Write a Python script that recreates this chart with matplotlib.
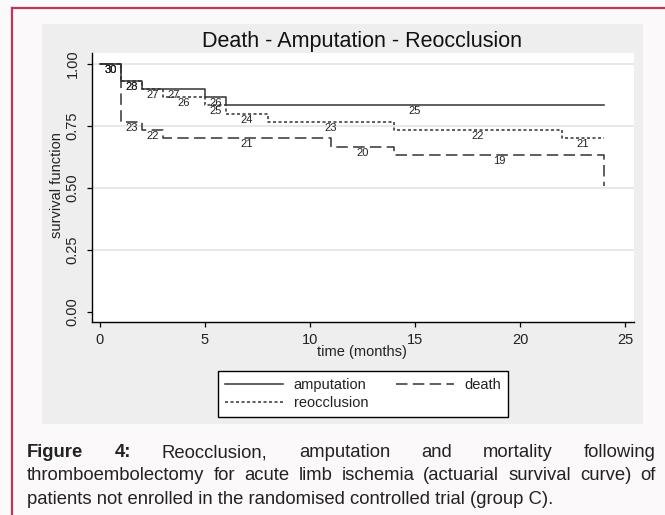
import matplotlib
matplotlib.use('Agg')
import matplotlib.pyplot as plt
from matplotlib.patches import Rectangle
from matplotlib.lines import Line2D

plt.rcParams['font.family'] = ['Liberation Sans', 'DejaVu Sans']

# ---------------- data ----------------
amp_times = [0, 1, 2, 5, 6, 24]
amp_surv = [1.000, 0.933, 0.900, 0.867, 0.833]
amp_risk = [30, 28, 27, 26, 25]

reo_times = [0, 1, 2, 3, 5, 6, 8, 14, 22, 24]
reo_surv = [1.000, 0.933, 0.900, 0.867, 0.833, 0.800, 0.767, 0.733, 0.700]
reo_risk = [30, 28, 27, 26, 25, 24, 23, 22, 21]

death_times = [0, 1, 2, 3, 11, 14, 24]
death_surv = [1.000, 0.767, 0.733, 0.700, 0.667, 0.633]
death_risk = [30, 23, 22, 21, 20, 19]
death_end = 0.51

xticks = [0, 5, 10, 15, 20, 25]
yticks = [0.0, 0.25, 0.50, 0.75, 1.00]
ytick_labels = ['0.00', '0.25', '0.50', '0.75', '1.00']

title = 'Death - Amputation - Reocclusion'
xlabel = 'time (months)'
ylabel = 'survival function'
legend_labels = ['amputation', 'reocclusion', 'death']

caption_lines = [
    ['Figure', '4:', 'Reocclusion,', 'amputation', 'and', 'mortality', 'following'],
    ['thromboembolectomy', 'for', 'acute', 'limb', 'ischemia', '(actuarial', 'survival', 'curve)', 'of'],
    ['patients', 'not', 'enrolled', 'in', 'the', 'randomised', 'controlled', 'trial', '(group', 'C).'],
]
caption_bold = {(0, 0), (0, 1)}

# ---------------- figure ----------------
W, H = 665, 515
fig = plt.figure(figsize=(W / 100, H / 100), dpi=100)
fig.patch.set_facecolor('#fbf9f9')

def fx(px):
    return px / W

def fy(py):
    return 1 - py / H

# crimson frame lines
fig.add_artist(Line2D([fx(12), 1.0], [fy(8), fy(8)], color='#c2345c', lw=1.6, transform=fig.transFigure))
fig.add_artist(Line2D([fx(12), fx(12)], [fy(8), 0.0], color='#c2345c', lw=1.6, transform=fig.transFigure))

# gray graph region
fig.add_artist(Rectangle((fx(42), fy(424)), fx(643) - fx(42), fy(24) - fy(424),
                         transform=fig.transFigure, facecolor='#eeeeee', edgecolor='none', zorder=0))

ax = fig.add_axes([fx(92), fy(322), fx(634) - fx(92), fy(53) - fy(322)])
ax.set_facecolor('white')
ax.set_xlim(-0.38, 25.43)
ax.set_ylim(-0.040, 1.044)

for s in ['top', 'right']:
    ax.spines[s].set_visible(False)
for s in ['left', 'bottom']:
    ax.spines[s].set_color('black')
    ax.spines[s].set_linewidth(1.0)

ax.set_yticks(yticks)
ax.set_yticklabels(ytick_labels, rotation=90, va='center')
ax.set_xticks(xticks)
ax.tick_params(axis='both', direction='out', length=3.8, width=0.9, colors='black',
               labelsize=10.5, labelcolor='#222222')
ax.tick_params(axis='y', pad=5)
ax.tick_params(axis='x', pad=4)

for yv in yticks[1:]:
    ax.axhline(yv, color='#e6e6e6', lw=1.3, zorder=0)

line_color = '#333333'
styles = {
    'amp': dict(color=line_color, lw=1.1, linestyle='-'),
    'reo': dict(color=line_color, lw=1.1, linestyle=(0, (2.0, 1.6))),
    'death': dict(color=line_color, lw=1.1, linestyle=(0, (7.5, 3.5))),
}

def draw_curve(times, surv, risk, style, end=None):
    xs = list(times)
    ys = list(surv) + [surv[-1]]
    if end is not None:
        xs = xs + [times[-1]]
        ys = ys + [end]
    ax.step(xs, ys, where='post', **style, zorder=2)
    for i, n in enumerate(risk):
        xm = (times[i] + times[i + 1]) / 2
        ax.text(xm, surv[i] - 0.004, str(n), ha='center', va='top', fontsize=8,
                color='#222222', zorder=3)

draw_curve(amp_times, amp_surv, amp_risk, styles['amp'])
draw_curve(reo_times, reo_surv, reo_risk, styles['reo'])
draw_curve(death_times, death_surv, death_risk, styles['death'], end=death_end)

fig.text(fx(362), fy(41), title, ha='center', va='center', fontsize=15.5, color='#111111')
fig.text(fx(362), fy(352), xlabel, ha='center', va='center', fontsize=10.5, color='#222222')
fig.text(fx(57), fy(185), ylabel, ha='center', va='center', rotation=90, fontsize=10.5, color='#222222')

handles = [Line2D([], [], **styles['amp']), Line2D([], [], **styles['reo']), Line2D([], [], **styles['death'])]
leg = fig.legend(handles, legend_labels, loc='center', bbox_to_anchor=(fx(363), fy(394)), ncol=2,
                 frameon=True, fancybox=False, edgecolor='black', facecolor='white', framealpha=1,
                 fontsize=10.5, handlelength=4.0, handletextpad=0.7, columnspacing=1.9,
                 borderpad=0.5, labelspacing=0.25, borderaxespad=0)
leg.get_frame().set_linewidth(1.0)
for t in leg.get_texts():
    t.set_color('#222222')

# ---------------- caption (justified) ----------------
renderer = fig.canvas.get_renderer()

def text_width(s, fs, weight='normal'):
    t = fig.text(0, 0, s, fontsize=fs, fontweight=weight)
    w = t.get_window_extent(renderer).width
    t.remove()
    return w

line3 = ' '.join(caption_lines[2])
cap_fs = 10 * (557 - 27) / text_width(line3, 10)
x_left, x_right = 27, 656
baselines = [457, 480.5, 504]

for li, words in enumerate(caption_lines):
    if li == 2:
        fig.text(fx(x_left), fy(baselines[li]), ' '.join(words), fontsize=cap_fs,
                 ha='left', va='baseline', color='#222222')
        continue
    weights = ['bold' if (li, wi) in caption_bold else 'normal' for wi in range(len(words))]
    widths = [text_width(w, cap_fs, wt) for w, wt in zip(words, weights)]
    gap = (x_right - x_left - sum(widths)) / (len(words) - 1)
    x = x_left
    for w, wt, wd in zip(words, weights, widths):
        fig.text(fx(x), fy(baselines[li]), w, fontsize=cap_fs, fontweight=wt,
                 ha='left', va='baseline', color='#222222')
        x += wd + gap

fig.savefig('out.png', dpi=100, facecolor=fig.get_facecolor())
